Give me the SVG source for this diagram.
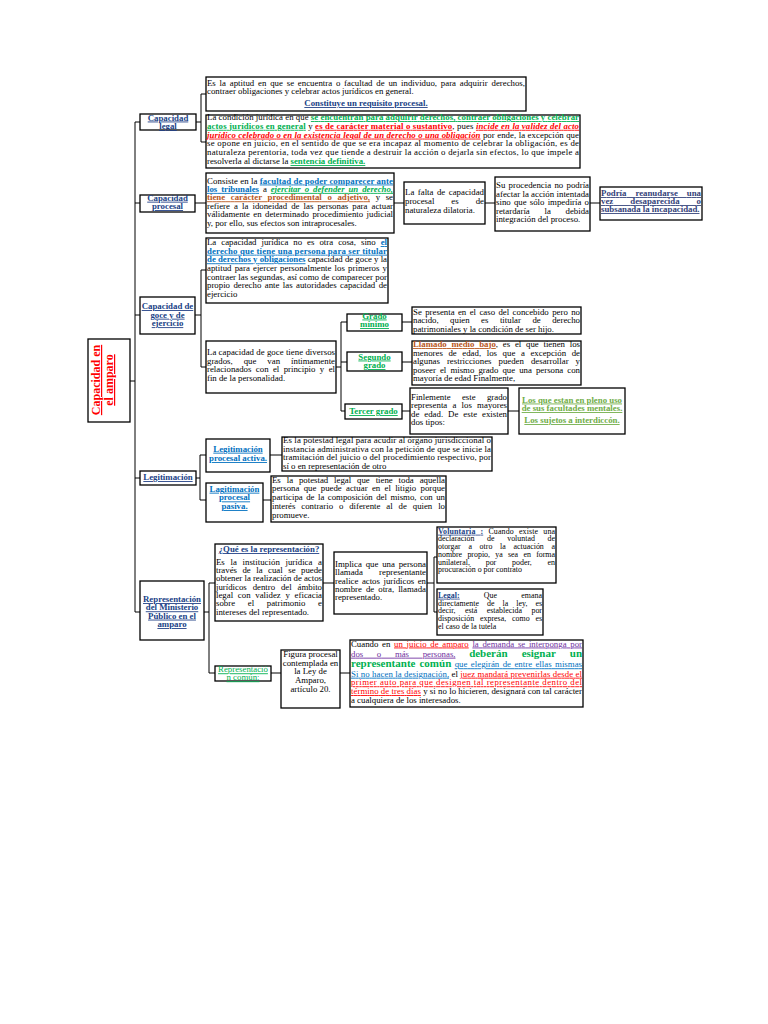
<svg xmlns="http://www.w3.org/2000/svg" width="768" height="1024" viewBox="0 0 768 1024">
<style>
.bx{fill:#fff;stroke:#000;stroke-width:1.3}
.c{fill:none;stroke:#000;stroke-width:1}
text{font-family:"Liberation Serif","Times New Roman",serif;font-size:8.8px;fill:#000}
.s{font-size:7.9px}
.m{text-anchor:middle}
.u{text-decoration:underline}
.bd{font-weight:bold}
.it{font-style:italic}
.nv{fill:#203f86;font-weight:bold;text-decoration:underline}
.g{fill:#00b050}
.r{fill:#ff0000}
.bl{fill:#0070c0}
.br{fill:#b8561b}
.pu{fill:#7030a0}
.lg{fill:#70ad47;font-weight:bold;text-decoration:underline}
.big{font-size:11px;font-weight:bold}
</style>
<rect width="768" height="1024" fill="#fff"/>

<g id="connectors">
<path class="c" d="M130,381H135M135,122V612M135,122H140M135,203H140M135,315H140M135,478H140M135,612H140"/>
<path class="c" d="M196,122H201M201,94V142M201,94H206M201,142H206"/>
<path class="c" d="M195,203H206M394,203H404M485,203H495M590,203H600"/>
<path class="c" d="M195,315H201M201,270V367M201,270H206M201,367H206"/>
<path class="c" d="M336,367H341M341,322V411M341,322H347M341,362H347M341,411H345"/>
<path class="c" d="M402,322H412M402,362H412M402,411H410M508,411H519"/>
<path class="c" d="M196,478H200M200,455V500M200,455H206M200,500H206M270,455H282M263,500H271"/>
<path class="c" d="M204,612H209M209,583V673M209,583H215M209,673H215M323,583H334"/>
<path class="c" d="M427,583H434M434,557V612M434,557H437M434,612H437M271,673H281M340,673H350"/>
</g>

<g id="n-main">
<rect class="bx" x="88" y="339" width="42" height="83"/>
<text class="bd u r" style="font-size:12px" text-anchor="middle" transform="translate(100,380) rotate(-90)">Capacidad en</text>
<text class="bd u r" style="font-size:12px" text-anchor="middle" transform="translate(113,380) rotate(-90)">el amparo</text>
</g>

<g id="n-caplegal">
<rect class="bx" x="140" y="114" width="56" height="16"/>
<text class="m nv" x="168" y="120.5">Capacidad</text>
<text class="m nv" x="168" y="129">legal</text>
</g>

<g id="n-aptitud">
<rect class="bx" x="206" y="77" width="320" height="34"/>
<text x="207" y="85.5" textLength="318" lengthAdjust="spacing" style="word-spacing:1.6px">Es la aptitud en que se encuentra o facultad de un individuo, para adquirir derechos,</text>
<text x="207" y="94">contraer obligaciones y celebrar actos jurídicos en general.</text>
<text class="m nv" x="366" y="106">Constituye un requisito procesal.</text>
</g>

<g id="n-condicion">
<rect class="bx" x="206" y="115" width="374" height="53"/>
<text x="207" y="120" textLength="372" lengthAdjust="spacing">La condición jurídica en que <tspan class="g bd u">se encuentran para adquirir derechos, contraer obligaciones y celebrar</tspan></text>
<text x="207" y="128.8" textLength="372" lengthAdjust="spacing"><tspan class="g bd u">actos jurídicos en general</tspan> y <tspan class="r bd u">es de carácter material o sustantivo</tspan>, pues <tspan class="r bd it u">incide en la validez del acto</tspan></text>
<text x="207" y="137.6" textLength="372" lengthAdjust="spacing"><tspan class="r bd it u">jurídico celebrado o en la existencia legal de un derecho o una obligación</tspan> por ende, la excepción que</text>
<text x="207" y="146.4" textLength="372" lengthAdjust="spacing">se opone en juicio, en el sentido de que se era incapaz al momento de celebrar la obligación, es de</text>
<text x="207" y="155.2" textLength="372" lengthAdjust="spacing">naturaleza perentoria, toda vez que tiende a destruir la acción o dejarla sin efectos, lo que impele a</text>
<text x="207" y="164">resolverla al dictarse la <tspan class="g bd u">sentencia definitiva.</tspan></text>
</g>

<g id="n-capprocesal">
<rect class="bx" x="140" y="195" width="55" height="17"/>
<text class="m nv" x="167.5" y="200.7">Capacidad</text>
<text class="m nv" x="167.5" y="209">procesal</text>
</g>

<g id="n-consiste">
<rect class="bx" x="206" y="173" width="188" height="60"/>
<text x="207" y="183.5" textLength="186" lengthAdjust="spacing">Consiste en la <tspan class="bl bd u">facultad de poder comparecer ante</tspan></text>
<text x="207" y="191.9" textLength="186" lengthAdjust="spacing" style="word-spacing:1.8px"><tspan class="bl bd u">los tribunales</tspan> a <tspan class="g bd it u">ejercitar o defender un derecho,</tspan></text>
<text x="207" y="200.3" textLength="186" lengthAdjust="spacing" style="word-spacing:3.4px"><tspan class="br bd u">tiene carácter procedimental o adjetivo,</tspan> y se</text>
<text x="207" y="208.7" textLength="186" lengthAdjust="spacing" style="word-spacing:1.9px">refiere a la idoneidad de las personas para actuar</text>
<text x="207" y="217.1" textLength="186" lengthAdjust="spacing" style="word-spacing:1.2px">válidamente en determinado procedimiento judicial</text>
<text x="207" y="225.5">y, por ello, sus efectos son intraprocesales.</text>
</g>

<g id="n-falta">
<rect class="bx" x="404" y="182" width="81" height="42"/>
<text x="405" y="195" textLength="79" lengthAdjust="spacing" style="word-spacing:1.3px">La falta de capacidad</text>
<text x="405" y="203.8" textLength="79" lengthAdjust="spacing" style="word-spacing:14.8px">procesal es de</text>
<text x="405" y="212.6">naturaleza dilatoria.</text>
</g>

<g id="n-procedencia">
<rect class="bx" x="495" y="177" width="95" height="54"/>
<text x="496" y="188" textLength="93" lengthAdjust="spacing" style="word-spacing:1.1px">Su procedencia no podría</text>
<text x="496" y="196.6" textLength="93" lengthAdjust="spacing">afectar la acción intentada</text>
<text x="496" y="205.2" textLength="93" lengthAdjust="spacing" style="word-spacing:1px">sino que sólo impediría o</text>
<text x="496" y="213.8" textLength="93" lengthAdjust="spacing" style="word-spacing:12.5px">retardaría la debida</text>
<text x="496" y="222.4">integración del proceso.</text>
</g>

<g id="n-podria">
<rect class="bx" x="600" y="187" width="102" height="33"/>
<text class="nv" x="601" y="196" textLength="100" lengthAdjust="spacing" style="fill:#34427a;word-spacing:6.7px">Podría reanudarse una</text>
<text class="nv" x="601" y="204" textLength="100" lengthAdjust="spacing" style="fill:#34427a;word-spacing:14.8px">vez desaparecida o</text>
<text class="nv" x="601" y="212" style="fill:#34427a">subsanada la incapacidad.</text>
</g>

<g id="n-capgoce">
<rect class="bx" x="140" y="297" width="55" height="37"/>
<text class="m nv" x="167.5" y="309">Capacidad de</text>
<text class="m nv" x="167.5" y="317.7">goce y de</text>
<text class="m nv" x="167.5" y="326.2">ejercicio</text>
</g>

<g id="n-juridica">
<rect class="bx" x="206" y="238" width="182" height="65"/>
<text x="207" y="245" textLength="180" lengthAdjust="spacing" style="word-spacing:2.8px">La capacidad jurídica no es otra cosa, sino <tspan class="bl bd u">el</tspan></text>
<text x="207" y="253.7" textLength="180" lengthAdjust="spacing"><tspan class="bl bd u">derecho que tiene una persona para ser titular</tspan></text>
<text x="207" y="262.3" textLength="180" lengthAdjust="spacing"><tspan class="bl bd u">de derechos y obligaciones</tspan> capacidad de goce y la</text>
<text x="207" y="271" textLength="180" lengthAdjust="spacing" style="word-spacing:1px">aptitud para ejercer personalmente los primeros y</text>
<text x="207" y="279.7" textLength="180" lengthAdjust="spacing">contraer las segundas, así como de comparecer por</text>
<text x="207" y="288.3" textLength="180" lengthAdjust="spacing" style="word-spacing:1.2px">propio derecho ante las autoridades capacidad de</text>
<text x="207" y="297">ejercicio</text>
</g>

<g id="n-grados">
<rect class="bx" x="206" y="341" width="130" height="52"/>
<text x="207" y="355" textLength="128" lengthAdjust="spacing">La capacidad de goce tiene diversos</text>
<text x="207" y="363.5" textLength="128" lengthAdjust="spacing" style="word-spacing:8.8px">grados, que van íntimamente</text>
<text x="207" y="372" textLength="128" lengthAdjust="spacing" style="word-spacing:2.2px">relacionados con el principio y el</text>
<text x="207" y="380.5">fin de la personalidad.</text>
</g>

<g id="n-gradominimo">
<rect class="bx" x="347" y="314" width="55" height="17"/>
<text class="m g bd u" x="374.5" y="318.5">Grado</text>
<text class="m g bd u" x="374.5" y="327">mínimo</text>
</g>

<g id="n-sepresenta">
<rect class="bx" x="412" y="307" width="169" height="27"/>
<text x="413" y="314.5" textLength="167" lengthAdjust="spacing" style="word-spacing:1.2px">Se presenta en el caso del concebido pero no</text>
<text x="413" y="323" textLength="167" lengthAdjust="spacing" style="word-spacing:9.3px">nacido, quien es titular de derecho</text>
<text x="413" y="331.5">patrimoniales y la condición de ser hijo.</text>
</g>

<g id="n-segundo">
<rect class="bx" x="347" y="352" width="55" height="19"/>
<text class="m g bd u" x="374.5" y="359.5">Segundo</text>
<text class="m g bd u" x="374.5" y="368">grado</text>
</g>

<g id="n-llamado">
<rect class="bx" x="412" y="341" width="169" height="44"/>
<text x="413" y="347" textLength="167" lengthAdjust="spacing" style="word-spacing:2.6px"><tspan class="br bd u">Llamado medio bajo</tspan>, es el que tienen los</text>
<text x="413" y="355.5" textLength="167" lengthAdjust="spacing" style="word-spacing:3.4px">menores de edad, los que a excepción de</text>
<text x="413" y="364" textLength="167" lengthAdjust="spacing" style="word-spacing:4.8px">algunas restricciones pueden desarrollar y</text>
<text x="413" y="372.5" textLength="167" lengthAdjust="spacing" style="word-spacing:1.9px">poseer el mismo grado que una persona con</text>
<text x="413" y="381">mayoría de edad Finalmente,</text>
</g>

<g id="n-tercer">
<rect class="bx" x="345" y="404" width="57" height="15"/>
<text class="m g bd u" x="373.5" y="414">Tercer grado</text>
</g>

<g id="n-finlemente">
<rect class="bx" x="410" y="388" width="98" height="46"/>
<text x="411" y="400" textLength="96" lengthAdjust="spacing" style="word-spacing:9.1px">Finlemente este grado</text>
<text x="411" y="408.3" textLength="96" lengthAdjust="spacing" style="word-spacing:3px">representa a los mayores</text>
<text x="411" y="416.6" textLength="96" lengthAdjust="spacing" style="word-spacing:2.8px">de edad. De este existen</text>
<text x="411" y="425">dos tipos:</text>
</g>

<g id="n-tipos">
<rect class="bx" x="519" y="388" width="106" height="46"/>
<text class="m lg" x="572" y="402.5">Los que estan en pleno uso</text>
<text class="m lg" x="572" y="411">de sus facultades mentales.</text>
<text class="m lg" x="572" y="423">Los sujetos a interdiccón.</text>
</g>

<g id="n-legitimacion">
<rect class="bx" x="140" y="471" width="56" height="14"/>
<text class="m nv" x="168" y="480">Legitimación</text>
</g>

<g id="n-activa">
<rect class="bx" x="206" y="439" width="64" height="33"/>
<text class="m bl bd u" x="238" y="451.7">Legitimación</text>
<text class="m bl bd u" x="238" y="461">procesal activa.</text>
</g>

<g id="n-acudir">
<rect class="bx" x="282" y="437" width="210" height="34"/>
<text x="283" y="443" textLength="208" lengthAdjust="spacing">Es la potestad legal para acudir al órgano jurisdiccional o</text>
<text x="283" y="451.5" textLength="208" lengthAdjust="spacing">instancia administrativa con la petición de que se inicie la</text>
<text x="283" y="460" textLength="208" lengthAdjust="spacing">tramitación del juicio o del procedimiento respectivo, por</text>
<text x="283" y="468.5">sí o en representación de otro</text>
</g>

<g id="n-pasiva">
<rect class="bx" x="206" y="483" width="57" height="39"/>
<text class="m bl bd u" x="234.5" y="491.7">Lagitimación</text>
<text class="m bl bd u" x="234.5" y="500.4">procesal</text>
<text class="m bl bd u" x="234.5" y="509">pasiva.</text>
</g>

<g id="n-potestad">
<rect class="bx" x="271" y="476" width="175" height="46"/>
<text x="272" y="482.5" textLength="173" lengthAdjust="spacing" style="word-spacing:3.7px">Es la potestad legal que tiene toda aquella</text>
<text x="272" y="491.3" textLength="173" lengthAdjust="spacing" style="word-spacing:2.1px">persona que puede actuar en el litigio porque</text>
<text x="272" y="500.1" textLength="173" lengthAdjust="spacing" style="word-spacing:1.3px">participa de la composición del mismo, con un</text>
<text x="272" y="508.9" textLength="173" lengthAdjust="spacing" style="word-spacing:3.7px">interés contrario o diferente al de quien lo</text>
<text x="272" y="517.7">promueve.</text>
</g>

<g id="n-representacion">
<rect class="bx" x="140" y="581" width="64" height="59"/>
<text class="m nv" x="172" y="602">Representación</text>
<text class="m nv" x="172" y="610.3">del Ministerio</text>
<text class="m nv" x="172" y="618.6">Público en el</text>
<text class="m nv" x="172" y="627">amparo</text>
</g>

<g id="n-quees">
<rect class="bx" x="215" y="544" width="108" height="77"/>
<text class="m nv" x="269" y="552">¿Qué es la representación?</text>
<text x="216" y="564.7" textLength="106" lengthAdjust="spacing" style="word-spacing:3.5px">Es la institución jurídica a</text>
<text x="216" y="573" textLength="106" lengthAdjust="spacing" style="word-spacing:3.3px">través de la cual se puede</text>
<text x="216" y="581.3" textLength="106" lengthAdjust="spacing">obtener la realización de actos</text>
<text x="216" y="589.7" textLength="106" lengthAdjust="spacing" style="word-spacing:3.7px">jurídicos dentro del ámbito</text>
<text x="216" y="598" textLength="106" lengthAdjust="spacing" style="word-spacing:2.5px">legal con validez y eficacia</text>
<text x="216" y="606.3" textLength="106" lengthAdjust="spacing" style="word-spacing:10.5px">sobre el patrimonio e</text>
<text x="216" y="614.7">intereses del representado.</text>
</g>

<g id="n-implica">
<rect class="bx" x="334" y="552" width="93" height="62"/>
<text x="335" y="567" textLength="91" lengthAdjust="spacing" style="word-spacing:1.6px">Implica que una persona</text>
<text x="335" y="575.3" textLength="91" lengthAdjust="spacing" style="word-spacing:14px">llamada representante</text>
<text x="335" y="583.7" textLength="91" lengthAdjust="spacing" style="word-spacing:1.3px">realice actos jurídicos en</text>
<text x="335" y="592" textLength="91" lengthAdjust="spacing" style="word-spacing:1.8px">nombre de otra, llamada</text>
<text x="335" y="600.3">representado.</text>
</g>

<g id="n-voluntaria">
<rect class="bx" x="437" y="527" width="119" height="56"/>
<text class="s" x="438" y="533.7" textLength="117" lengthAdjust="spacing" style="word-spacing:3px"><tspan class="nv">Voluntaria :</tspan> Cuando existe una</text>
<text class="s" x="438" y="541.4" textLength="117" lengthAdjust="spacing" style="word-spacing:10.7px">declaración de voluntad de</text>
<text class="s" x="438" y="549.1" textLength="117" lengthAdjust="spacing" style="word-spacing:5.7px">otorgar a otro la actuación a</text>
<text class="s" x="438" y="556.8" textLength="117" lengthAdjust="spacing" style="word-spacing:3.3px">nombre propio, ya sea en forma</text>
<text class="s" x="438" y="564.5" textLength="117" lengthAdjust="spacing" style="word-spacing:13.8px">unilateral, por poder, en</text>
<text class="s" x="438" y="572.2">procuración o por contrato</text>
</g>

<g id="n-legal">
<rect class="bx" x="437" y="589" width="106" height="46"/>
<text class="s" x="438" y="597.7" textLength="104" lengthAdjust="spacing" style="word-spacing:22px"><tspan class="nv">Legal:</tspan> Que emana</text>
<text class="s" x="438" y="605.5" textLength="104" lengthAdjust="spacing" style="word-spacing:6px">directamente de la ley, es</text>
<text class="s" x="438" y="613.3" textLength="104" lengthAdjust="spacing" style="word-spacing:7.3px">decir, está establecida por</text>
<text class="s" x="438" y="621.1" textLength="104" lengthAdjust="spacing" style="word-spacing:3.8px">disposición expresa, como es</text>
<text class="s" x="438" y="629">el caso de la tutela</text>
</g>

<g id="n-comun">
<rect class="bx" x="215" y="666" width="56" height="15"/>
<text class="m g u" x="243" y="672.3">Representació</text>
<text class="m g u" x="243" y="680.3">n común:</text>
</g>

<g id="n-figura">
<rect class="bx" x="281" y="650" width="59" height="58"/>
<text class="m" x="310.5" y="657">Figura procesal</text>
<text class="m" x="310.5" y="665.7">contemplada en</text>
<text class="m" x="310.5" y="674.4">la Ley de</text>
<text class="m" x="310.5" y="683.1">Amparo,</text>
<text class="m" x="310.5" y="691.8">artículo 20.</text>
</g>

<g id="n-cuando">
<rect class="bx" x="350" y="640" width="233" height="67"/>
<text x="351" y="646.5" textLength="231" lengthAdjust="spacing" style="word-spacing:1.5px">Cuando en <tspan class="r u">un juicio de amparo</tspan> <tspan class="pu u">la demanda se interponga por</tspan></text>
<text x="351" y="656.7" textLength="231" lengthAdjust="spacing" style="word-spacing:11.5px"><tspan class="pu u">dos o más personas,</tspan> <tspan class="g big">deberán esignar un</tspan></text>
<text x="351" y="667.3" textLength="231" lengthAdjust="spacing" style="word-spacing:1.2px"><tspan class="g big">representante común</tspan> <tspan class="bl u">que elegirán de entre ellas mismas</tspan></text>
<text x="351" y="676.7" textLength="231" lengthAdjust="spacing"><tspan class="bl u">Si no hacen la designación,</tspan> el <tspan class="r u">juez mandará prevenirlas desde el</tspan></text>
<text x="351" y="685.3" textLength="231" lengthAdjust="spacing"><tspan class="r u">primer auto para que designen tal representante dentro del</tspan></text>
<text x="351" y="694" textLength="231" lengthAdjust="spacing"><tspan class="r u">término de tres días</tspan> y si no lo hicieren, designará con tal carácter</text>
<text x="351" y="702.7">a cualquiera de los interesados.</text>
</g>
</svg>
